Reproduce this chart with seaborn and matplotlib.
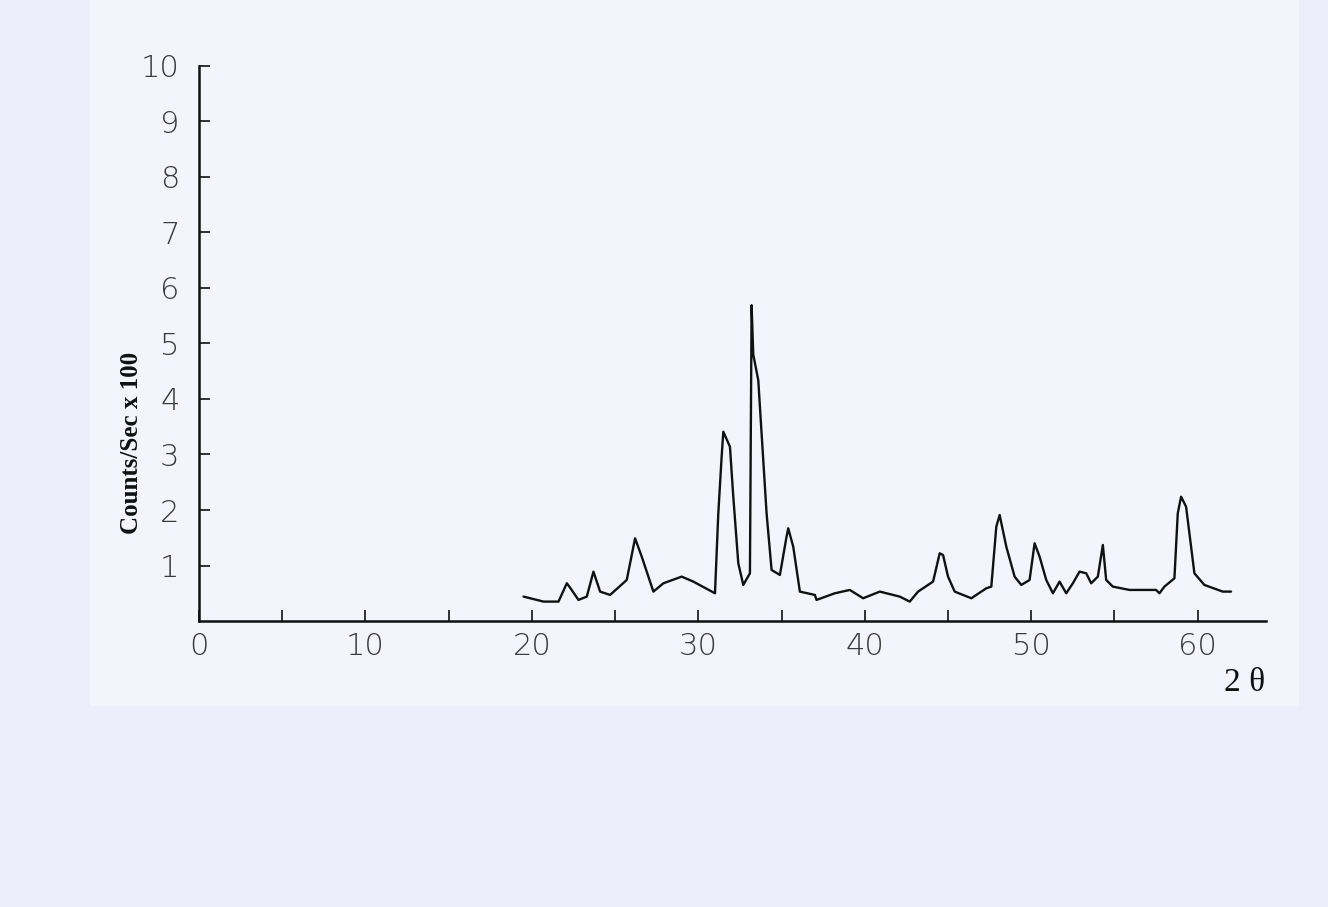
import numpy as np
import pandas as pd
import matplotlib.pyplot as plt
import seaborn as sns

# Data
two_theta = [19.5, 20.7, 21.6, 22.1, 22.3, 22.8, 23.3, 23.7, 24.1, 24.7,
             25.7, 26.2, 26.6, 27.3, 27.9, 29.0, 29.7, 31.0, 31.2, 31.4,
             31.5, 31.9, 32.1, 32.4, 32.7, 33.1, 33.2, 33.3, 33.6, 34.1,
             34.4, 34.9, 35.3, 35.4, 35.7, 36.1, 37.0, 37.1, 38.2, 39.1,
             39.9, 40.9, 42.1, 42.7, 43.2, 44.1, 44.5, 44.7, 45.0, 45.4,
             45.9, 46.4, 47.3, 47.6, 47.9, 48.1, 48.5, 49.0, 49.4, 49.9,
             50.2, 50.5, 50.9, 51.3, 51.7, 52.1, 52.5, 52.9, 53.3, 53.6,
             54.0, 54.3, 54.5, 54.9, 55.9, 57.5, 57.7, 58.0, 58.6, 58.8,
             59.0, 59.3, 59.8, 60.4, 61.5, 62.0]
counts = [0.44, 0.35, 0.35, 0.68, 0.60, 0.38, 0.44, 0.89, 0.53, 0.47,
          0.74, 1.49, 1.16, 0.53, 0.68, 0.80, 0.71, 0.50, 1.94, 2.96,
          3.41, 3.14, 2.24, 1.04, 0.65, 0.86, 5.69, 4.80, 4.34, 1.94,
          0.92, 0.83, 1.52, 1.67, 1.34, 0.53, 0.47, 0.38, 0.50, 0.56,
          0.41, 0.53, 0.44, 0.35, 0.53, 0.71, 1.22, 1.19, 0.80, 0.53,
          0.47, 0.41, 0.59, 0.62, 1.70, 1.91, 1.34, 0.80, 0.65, 0.74,
          1.40, 1.16, 0.74, 0.50, 0.71, 0.50, 0.68, 0.89, 0.86, 0.68,
          0.80, 1.37, 0.74, 0.62, 0.56, 0.56, 0.50, 0.62, 0.77, 1.94,
          2.24, 2.06, 0.86, 0.65, 0.53, 0.53]

x_ticks = [0, 10, 20, 30, 40, 50, 60]
y_ticks = [1, 2, 3, 4, 5, 6, 7, 8, 9, 10]

df = pd.DataFrame({"two_theta": two_theta, "counts": counts})

# Plot
sns.set_style("white")
plt.rcParams['font.family'] = ['DejaVu Sans']

fig = plt.figure(figsize=(13.28, 9.07), dpi=100, facecolor="#eceefb")
# lighter scanned sheet behind the chart
fig.patches.append(plt.Rectangle((0.068, 0.222), 0.91, 0.778, transform=fig.transFigure,
                                 facecolor="#f4f5fc", edgecolor="none", zorder=-10))

ax = fig.add_axes([0.1498, 0.3153, 0.8035, 0.612])
ax.set_facecolor("none")

sns.lineplot(data=df, x="two_theta", y="counts", ax=ax, color="#111111",
             linewidth=1.7, sort=False)

# Decorations
ax.set_xlim(0, 64.1)
ax.set_ylim(0, 10)
ax.set_xticks(x_ticks)
ax.set_xticks(np.arange(5, 60, 10), minor=True)
ax.set_yticks(y_ticks)
ax.tick_params(axis="both", which="both", direction="in", length=8,
               width=1.3, color="#222222", labelsize=22, labelcolor="#3a3a3a",
               bottom=True, left=True)
ax.tick_params(axis="y", pad=14)
ax.tick_params(axis="x", pad=8)
for lab in ax.get_xticklabels() + ax.get_yticklabels():
    lab.set_fontweight("light")

sns.despine(ax=ax)
for side in ["left", "bottom"]:
    ax.spines[side].set_linewidth(1.8)
    ax.spines[side].set_color("#111111")

ax.set_xlabel("")
ax.set_ylabel("Counts/Sec x 100", family="Liberation Serif", fontweight="bold",
              fontsize=18, color="#111111")
ax.yaxis.set_label_coords(-0.052, 0.32)
fig.text(0.937, 0.247, "2 θ", family="Liberation Serif", fontsize=24,
         color="#111111", ha="center", va="center")

fig.savefig("out.png", dpi=100, facecolor=fig.get_facecolor())
